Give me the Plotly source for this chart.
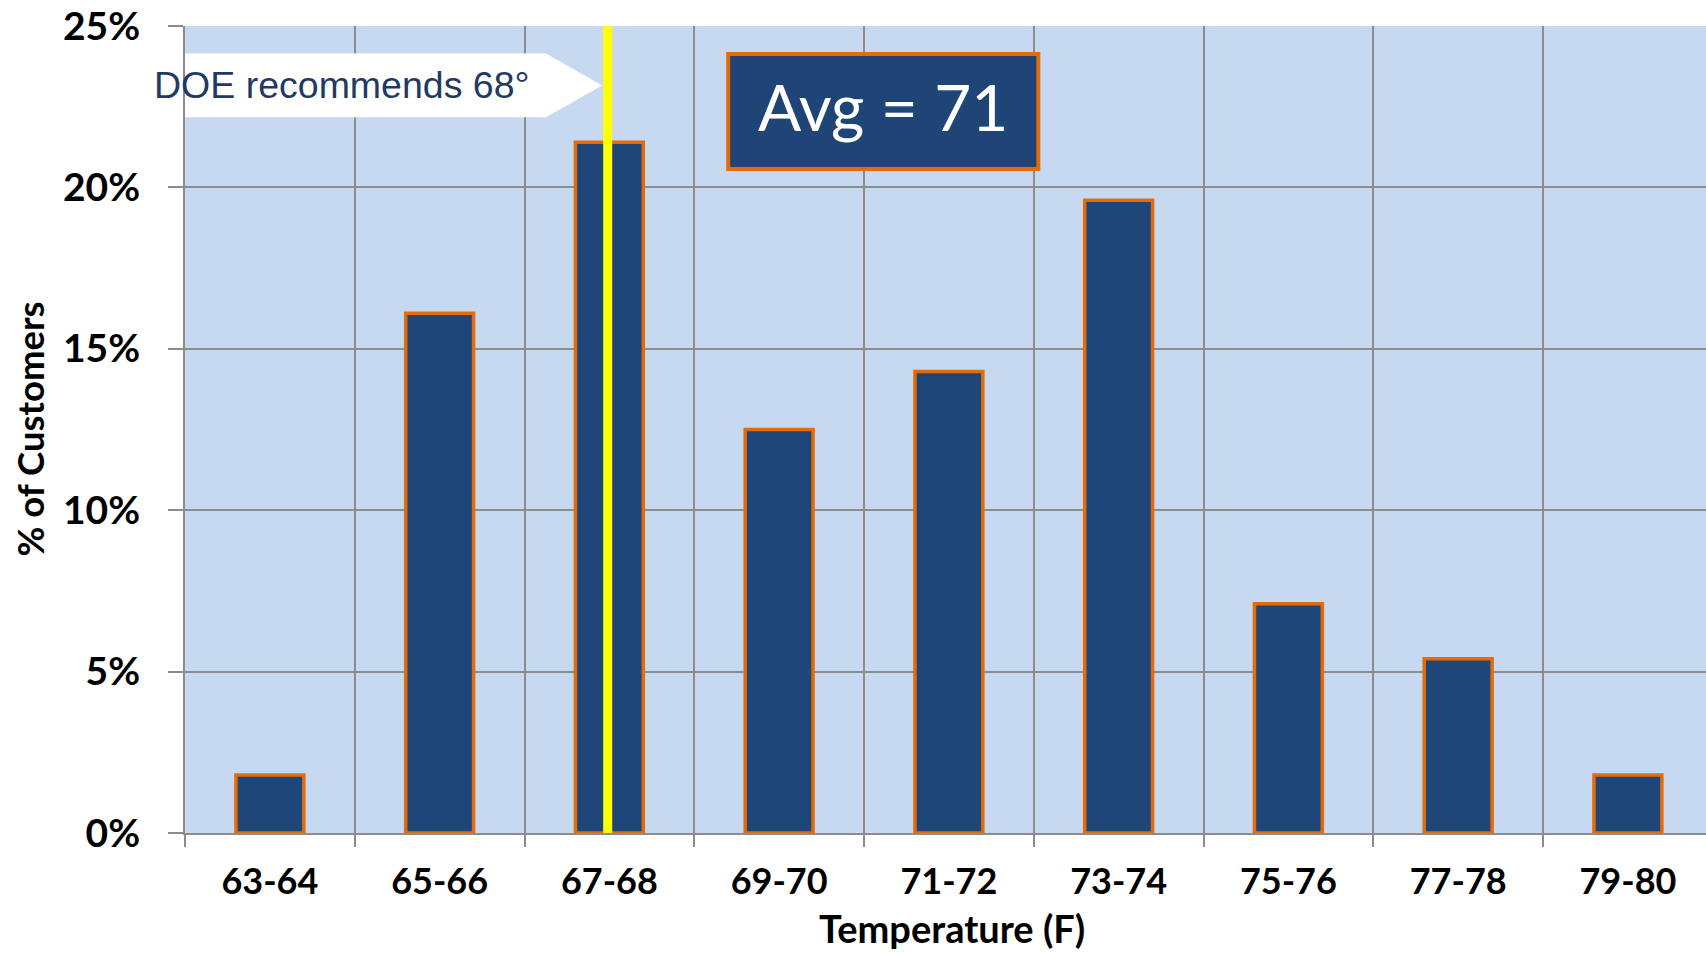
import plotly.graph_objects as go

# Temperature bins and share of customers in each
temp_bins = ["63-64", "65-66", "67-68", "69-70", "71-72", "73-74", "75-76", "77-78", "79-80"]
pct_customers = [1.8, 16.1, 21.4, 12.5, 14.3, 19.6, 7.1, 5.4, 1.8]
y_ticks = [0, 5, 10, 15, 20, 25]
y_tick_text = ["0%", "5%", "10%", "15%", "20%", "25%"]

NAVY = "#1f4678"
ORANGE = "#e36c09"
GRID = "#8c8c8c"
X_LABEL_FONT = dict(family="Lato", size=36, color="#000000")
Y_LABEL_FONT = dict(family="Lato", size=39, color="#000000")

fig = go.Figure()
fig.add_trace(go.Bar(
    x=temp_bins,
    y=pct_customers,
    width=0.4,
    marker=dict(color=NAVY, line=dict(color=ORANGE, width=3.5)),
    hoverinfo="x+y",
))

# Vertical marker for the DOE recommended setpoint
fig.add_shape(type="line", xref="x", yref="paper", x0=1.99, x1=1.99, y0=0, y1=1,
              line=dict(color="#ffff00", width=9), layer="above")

# White arrow-shaped callout pointing at the marker
fig.add_shape(type="path", xref="x", yref="y",
              path="M -0.5 24.15 L 1.627 24.15 L 1.957 23.16 L 1.627 22.17 L -0.5 22.17 Z",
              fillcolor="#ffffff", line=dict(width=0), layer="above")
fig.add_annotation(xref="paper", yref="y", x=0, xshift=-33, y=23.16, xanchor="left", yanchor="middle",
                   text="DOE recommends 68°", showarrow=False,
                   font=dict(family="Liberation Sans", size=37.5, color="#1f3a63"))

# Average box
fig.add_shape(type="rect", xref="x", yref="y", x0=2.70, x1=4.527, y0=20.57, y1=24.13,
              fillcolor="#1f4576", line=dict(color=ORANGE, width=4), layer="above")
fig.add_annotation(xref="x", yref="y", x=3.613, y=22.5, xanchor="center", yanchor="middle",
                   text="Avg = 71", showarrow=False,
                   font=dict(family="Lato", size=64, color="#ffffff"))

# Axis titles
fig.add_annotation(xref="paper", yref="paper", x=0, xshift=-156, y=0.5, xanchor="center", yanchor="middle",
                   text="<b>% of Customers</b>", textangle=-90, showarrow=False,
                   font=dict(family="Lato", size=36.5, color="#000000"))
fig.add_annotation(xref="paper", yref="paper", x=0.504, y=0, yshift=-95, xanchor="center", yanchor="middle",
                   text="<b>Temperature (F)</b>", showarrow=False,
                   font=dict(family="Lato", size=38, color="#000000"))

fig.update_layout(
    width=1706, height=953,
    margin=dict(l=185, r=0, t=26, b=120),
    paper_bgcolor="#ffffff",
    plot_bgcolor="#c6d9f1",
    showlegend=False,
)
fig.update_xaxes(
    type="category",
    range=[-0.5, 8.46],
    tickson="boundaries",
    ticks="outside", ticklen=12, tickwidth=2, tickcolor=GRID,
    showgrid=True, gridcolor=GRID, gridwidth=2,
    showline=True, linecolor=GRID, linewidth=2,
    tickfont=X_LABEL_FONT,
    tickprefix="<b>", ticksuffix="</b>",
    ticklabelstandoff=16,
)
fig.update_yaxes(
    range=[0, 25],
    tickvals=y_ticks,
    ticktext=["<b>" + t + "</b>" for t in y_tick_text],
    ticks="outside", ticklen=15, tickwidth=2, tickcolor=GRID,
    showgrid=True, gridcolor=GRID, gridwidth=2,
    showline=True, linecolor=GRID, linewidth=2,
    zeroline=False,
    tickfont=Y_LABEL_FONT,
    ticklabelstandoff=20,
)

fig.write_html("out.html")
